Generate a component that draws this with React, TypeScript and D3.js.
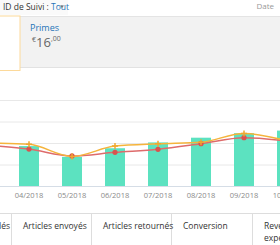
import React from "react"
import * as d3 from "d3"

const months = ["03/2018", "04/2018", "05/2018", "06/2018", "07/2018", "08/2018", "09/2018", "10/2018"]
const bars = [1.9, 1.88, 1.38, 1.78, 2.05, 2.27, 2.48, 2.6]
const redLine = [1.93, 1.74, 1.42, 1.59, 1.73, 1.99, 2.27, 2.12]
const orangeLine = [2.02, 1.96, 1.4, 1.88, 1.99, 2.06, 2.47, 2.12]
const yTicks = [1, 2, 3, 4]
const columns = ["Articles commandés", "Articles envoyés", "Articles retournés", "Conversion"]

const font = "'Open Sans', 'Noto Sans', sans-serif"

export default function App() {
  const w = 280
  const h = 245

  const x = d3.scalePoint<string>().domain(months).range([-14, 287])
  const y = d3.scaleLinear().domain([0, 4]).range([186.5, 100.5])
  const barW = 20

  const line = d3.line<number>()
    .x((d, i) => x(months[i]) as number)
    .y(d => y(d))
    .curve(d3.curveMonotoneX)

  const colX = [11.5, 91.5, 171.5, 252.5]

  return (
    <div>
      <style>{`body{margin:0}`}</style>
      <svg width={w} height={h} style={{ display: "block", fontFamily: font }}>
        {/* header */}
        <rect x={0} y={0} width={68} height={15} fill="#fafafa" />
        <text x={3} y={9.5} fontSize={8.5} fill="#333">
          ID de Suivi : <tspan fill="#1f74b8">Tout</tspan>
        </text>
        <path d="M60,5.5 L64,5.5 L62,8 Z" fill="#777" />
        <text x={274} y={9} fontSize={8} fill="#999" textAnchor="end">Date</text>

        {/* summary panel */}
        <rect x={20} y={16.5} width={260} height={50.5} fill="#f2f2f2" />
        <line x1={20} x2={280} y1={16.5} y2={16.5} stroke="#e4e4e4" />
        <line x1={20} x2={280} y1={67.5} y2={67.5} stroke="#e2e2e2" />
        <rect x={-2} y={16} width={22} height={54.5} fill="#fff" stroke="#fcd99a" strokeWidth={1} />
        <text x={30} y={30.5} fontSize={9} fill="#1f74b8">Primes</text>
        <text x={32} y={47} fill="#666">
          <tspan fontSize={7} dy={-5}>€</tspan>
          <tspan fontSize={13} dy={5}>16</tspan>
          <tspan fontSize={7} dy={-6}>,00</tspan>
        </text>

        {/* chart grid */}
        {yTicks.map(t => (
          <line key={t} x1={0} x2={w} y1={y(t)} y2={y(t)} stroke="#e8e8e8" strokeWidth={1} />
        ))}

        {bars.map((v, i) => (
          <rect key={months[i]} x={(x(months[i]) as number) - barW / 2} y={y(v)}
            width={barW} height={y(0) - y(v)} fill="#5ce2c0" />
        ))}
        <line x1={0} x2={w} y1={y(0)} y2={y(0)} stroke="#d5dde6" />

        <path d={line(redLine) || ""} fill="none" stroke="#de6b6b" strokeWidth={1.5} />
        <path d={line(orangeLine) || ""} fill="none" stroke="#f5b43c" strokeWidth={1.5} />
        {redLine.map((v, i) => (
          <circle key={i} cx={x(months[i])} cy={y(v)} r={2.6} fill="#d9534f" />
        ))}
        {orangeLine.map((v, i) => {
          const cx = x(months[i]) as number
          const cy = y(v)
          return (
            <path key={i} d={`M${cx - 3},${cy}H${cx + 3}M${cx},${cy - 3}V${cy + 3}`}
              stroke="#f0a830" strokeWidth={1.5} />
          )
        })}

        {months.slice(1).map(m => (
          <text key={m} x={x(m)} y={198} fontSize={7.5} fill="#8a8a8a" textAnchor="middle">{m}</text>
        ))}

        {/* metric columns */}
        <line x1={0} x2={w} y1={213.5} y2={213.5} stroke="#dddddd" />
        {colX.map(cx => (
          <line key={cx} x1={cx} x2={cx} y1={213.5} y2={h} stroke="#dddddd" />
        ))}
        {columns.map((c, i) => (
          <text key={c} x={i === 0 ? 10 : colX[i - 1] + 11.5} y={229} fontSize={8.5} fill="#333"
            textAnchor={i === 0 ? "end" : "start"}>{c}</text>
        ))}
        <text x={264} y={229} fontSize={8.5} fill="#333">Revenus des</text>
        <text x={264} y={241} fontSize={8.5} fill="#333">expédiés</text>
      </svg>
    </div>
  )
}
